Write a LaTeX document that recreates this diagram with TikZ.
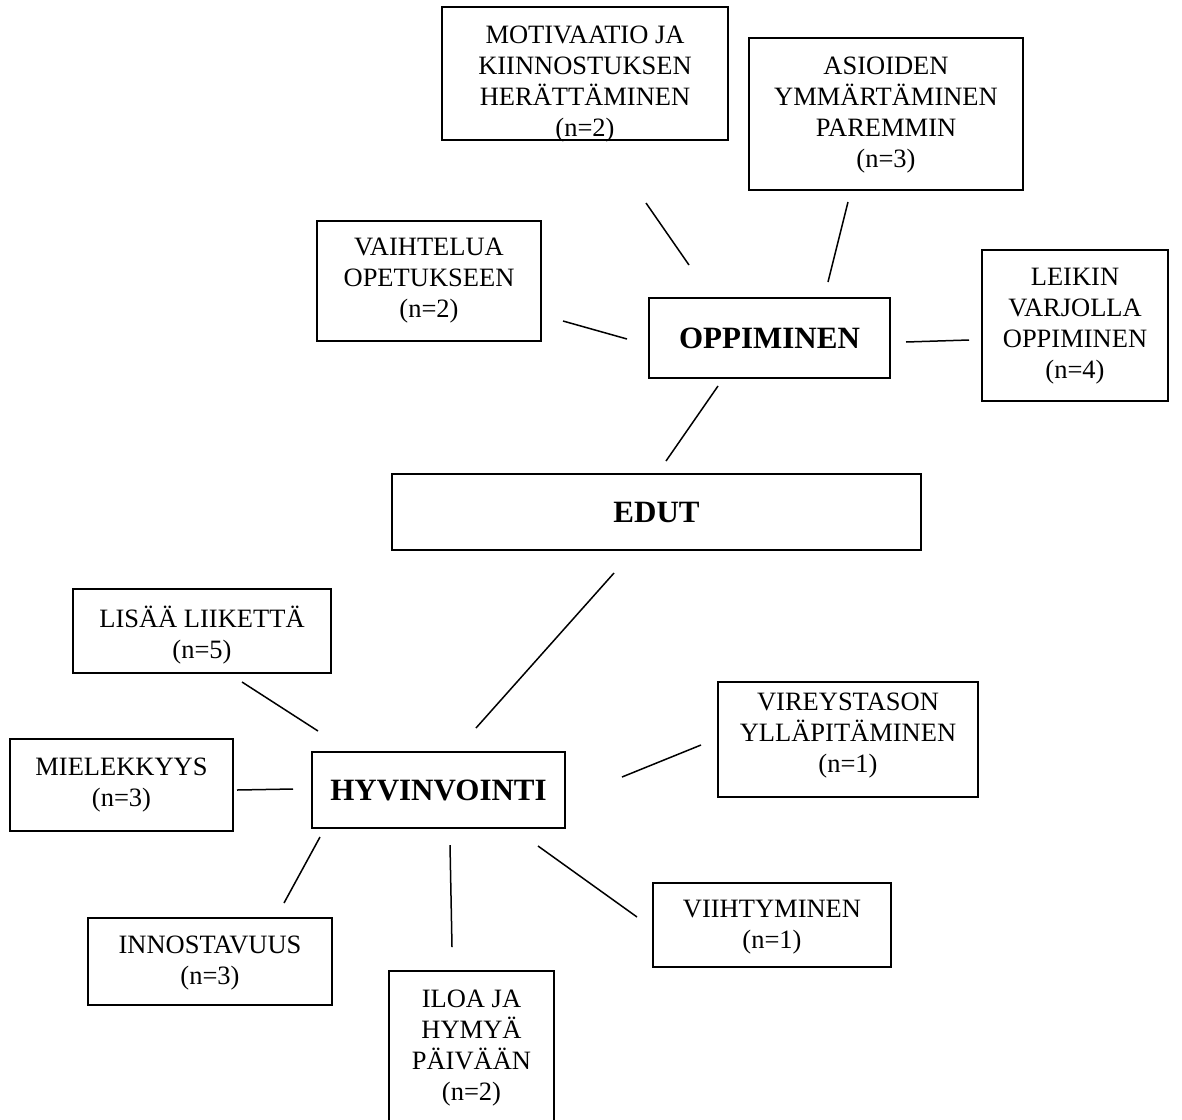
\documentclass[tikz,border=0pt]{standalone}
\usepackage{fontspec}
\setmainfont{Liberation Serif}
\newcommand\fstrut{\rule{0pt}{24pt}}
\begin{document}
\begin{tikzpicture}[x=1pt,y=-1pt,
  box/.style={draw, line width=1.2pt, inner sep=0pt, outer sep=0pt},
  hub/.style={draw, line width=2.6pt, inner sep=0pt, outer sep=0pt, font=\fontsize{31}{36}\selectfont\bfseries},
  txt/.style={align=center, inner sep=0pt, anchor=north, font=\fontsize{26.5}{31}\selectfont},
  link/.style={line width=1.5pt}]
\useasboundingbox (0,0) rectangle (1182,1119);

% boxes
\node[box, minimum width=286, minimum height=133] (mot) at (585,73.5) {};
\node[txt] (motT) at (585,19) {\fstrut MOTIVAATIO JA\\KIINNOSTUKSEN\\HERÄTTÄMINEN\\(n=2)};

\node[box, minimum width=274, minimum height=152] (asi) at (886,114) {};
\node[txt] (asiT) at (886,50) {\fstrut ASIOIDEN\\YMMÄRTÄMINEN\\PAREMMIN\\(n=3)};

\node[box, minimum width=224, minimum height=120] (vai) at (429,281) {};
\node[txt] (vaiT) at (429,231) {\fstrut VAIHTELUA\\OPETUKSEEN\\(n=2)};

\node[box, minimum width=186, minimum height=151] (lei) at (1075,325.5) {};
\node[txt] (leiT) at (1075,261) {\fstrut LEIKIN\\VARJOLLA\\OPPIMINEN\\(n=4)};

\node[hub, minimum width=241, minimum height=80] (opp) at (769.5,338) {OPPIMINEN};
\node[hub, minimum width=529, minimum height=76] (edut) at (656.5,512) {EDUT};

\node[box, minimum width=258, minimum height=84] (lis) at (202,631) {};
\node[txt] (lisT) at (202,603) {\fstrut LISÄÄ LIIKETTÄ\\(n=5)};

\node[box, minimum width=223, minimum height=92] (mie) at (121.5,785) {};
\node[txt] (mieT) at (121.5,751) {\fstrut MIELEKKYYS\\(n=3)};

\node[hub, minimum width=253, minimum height=76] (hyv) at (438.5,790) {HYVINVOINTI};

\node[box, minimum width=260, minimum height=115] (vir) at (848,739.5) {};
\node[txt] (virT) at (848,686) {\fstrut VIREYSTASON\\YLLÄPITÄMINEN\\(n=1)};

\node[box, minimum width=244, minimum height=87] (inn) at (210,961.5) {};
\node[txt] (innT) at (210,929) {\fstrut INNOSTAVUUS\\(n=3)};

\node[box, minimum width=165, minimum height=158] (ilo) at (471.5,1050) {};
\node[txt] (iloT) at (471.5,983) {\fstrut ILOA JA\\HYMYÄ\\PÄIVÄÄN\\(n=2)};

\node[box, minimum width=238, minimum height=84] (vii) at (772,925) {};
\node[txt] (viiT) at (772,893) {\fstrut VIIHTYMINEN\\(n=1)};

% connector end points
\coordinate (motA) at (646,203); \coordinate (motB) at (689,265);
\coordinate (asiA) at (848,202); \coordinate (asiB) at (828,282);
\coordinate (vaiA) at (563,321); \coordinate (vaiB) at (627,339);
\coordinate (leiA) at (906,342); \coordinate (leiB) at (969,340);
\coordinate (oppA) at (718,386); \coordinate (oppB) at (666,461);
\coordinate (edA) at (614,573); \coordinate (edB) at (476,728);
\coordinate (lisA) at (242,682); \coordinate (lisB) at (318,731);
\coordinate (mieA) at (237,790); \coordinate (mieB) at (293,789);
\coordinate (innA) at (320,837); \coordinate (innB) at (284,903);
\coordinate (iloA) at (450,845); \coordinate (iloB) at (452,947);
\coordinate (viiA) at (538,846); \coordinate (viiB) at (637,917);
\coordinate (virA) at (622,777); \coordinate (virB) at (701,745);

\draw[link] (motA) -- (motB);
\draw[link] (asiA) -- (asiB);
\draw[link] (vaiA) -- (vaiB);
\draw[link] (leiA) -- (leiB);
\draw[link] (oppA) -- (oppB);
\draw[link] (edA) -- (edB);
\draw[link] (lisA) -- (lisB);
\draw[link] (mieA) -- (mieB);
\draw[link] (innA) -- (innB);
\draw[link] (iloA) -- (iloB);
\draw[link] (viiA) -- (viiB);
\draw[link] (virA) -- (virB);
\end{tikzpicture}
\end{document}
